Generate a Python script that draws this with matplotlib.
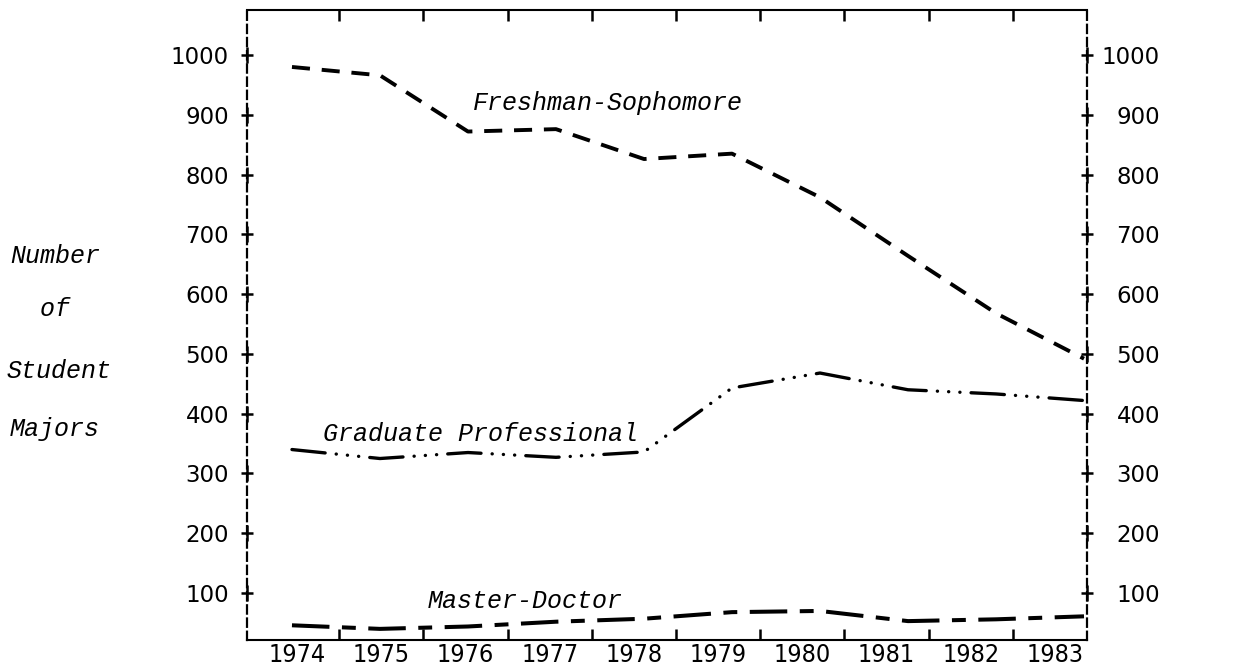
import matplotlib
matplotlib.use("Agg")
import matplotlib.pyplot as plt
from matplotlib import font_manager
from matplotlib.ticker import FixedLocator, NullFormatter

# ---------------- data ----------------
years = [1974, 1975, 1976, 1977, 1978, 1979, 1980, 1981, 1982, 1983]
freshman_sophomore = [980, 966, 872, 876, 826, 835, 762, 664, 568, 492]
graduate_professional = [340, 325, 335, 327, 336, 443, 468, 440, 433, 422]
master_doctor = [46, 40, 44, 52, 57, 68, 70, 53, 56, 61]
y_ticks = [100, 200, 300, 400, 500, 600, 700, 800, 900, 1000]
year_labels = [str(y) for y in years]
axis_title_lines = ["Number", "  of", "Student", "Majors"]

plt.rcParams["lines.scale_dashes"] = False

W, H, DPI = 1252, 667, 100
fig = plt.figure(figsize=(W / DPI, H / DPI), dpi=DPI)
fig.patch.set_facecolor("white")

def fx(px):
    return px / W

def fy(py):
    return 1 - py / H

# narrow face for the year labels if present
have_condensed = any(f.name == "DejaVu Sans" and "condensed" in str(f.stretch)
                     for f in font_manager.fontManager.ttflist)
year_font = dict(family="DejaVu Sans", stretch="condensed", size=18) if have_condensed \
    else dict(family="DejaVu Sans", size=15.5)

ax = fig.add_axes([fx(247), fy(640), fx(1087) - fx(247), fy(10) - fy(640)])
ax.set_xlim(1973.489, 1983.034)
ax.set_ylim(21.4, 1075.3)

mono_it = dict(family=["Liberation Mono", "DejaVu Sans Mono"], style="italic",
               size=18, color="black")

# ---------------- series ----------------
ax.plot(years, freshman_sophomore, color="black", lw=2.8,
        dashes=(13, 8.5), dash_capstyle="butt", solid_joinstyle="round")
ax.plot(years, graduate_professional, color="black", lw=2.4,
        dashes=(24, 8, 0.1, 8, 0.1, 8, 0.1, 8), dash_capstyle="round")
ax.plot(years, master_doctor, color="black", lw=2.9,
        dashes=(27, 9, 10, 9), dash_capstyle="butt")

# ---------------- frame ----------------
for side in ("top", "bottom"):
    ax.spines[side].set_linewidth(1.5)
for side in ("left", "right"):
    ax.spines[side].set_linewidth(1.6)
    ax.spines[side].set_linestyle((0, (6, 3.5)))

ax.yaxis.set_major_locator(FixedLocator(y_ticks))
ax.tick_params(axis="y", which="major", direction="inout", length=8, width=1.8,
               left=True, right=True, labelleft=True, labelright=False,
               labelsize=16.5, pad=9)
ax.xaxis.set_major_locator(FixedLocator([]))
ax.tick_params(axis="x", which="both", bottom=False, top=False,
               labelbottom=False, labeltop=False)

# vertical bar of the "+" tick crosses
for xa in (0, 1):
    ax.plot([xa] * len(y_ticks), y_ticks, ls="none", marker="|", ms=11,
            mew=1.8, color="black", transform=ax.get_yaxis_transform(),
            clip_on=False)

# right labels (right-aligned like typed columns)
axr = ax.twinx()
axr.set_ylim(ax.get_ylim())
axr.yaxis.set_major_locator(FixedLocator(y_ticks))
axr.tick_params(axis="y", which="major", direction="inout", length=8, width=1.8,
                labelsize=16.5, pad=48.5)
for lab in axr.get_yticklabels():
    lab.set_horizontalalignment("right")
for s in axr.spines.values():
    s.set_visible(False)

# year label axis
axl = ax.twiny()
axl.set_xlim(1973.406, 1983.380)
axl.xaxis.set_ticks_position("bottom")
axl.xaxis.set_major_locator(FixedLocator(years))
axl.set_xticklabels(year_labels, **year_font)
axl.xaxis.set_minor_locator(FixedLocator([y + 0.5 for y in years[:-1]]))
axl.xaxis.set_minor_formatter(NullFormatter())
axl.tick_params(axis="x", which="major", length=0, pad=2,
                bottom=True, top=False)
axl.tick_params(axis="x", which="minor", direction="in", length=8, width=1.8,
                bottom=True, top=True)
for s in axl.spines.values():
    s.set_visible(False)

# ---------------- annotations ----------------
fig.text(fx(473), fy(110), "Freshman-Sophomore", ha="left", va="baseline", **mono_it)
fig.text(fx(323), fy(441), "Graduate Professional", ha="left", va="baseline", **mono_it)
fig.text(fx(428), fy(608), "Master-Doctor", ha="left", va="baseline", **mono_it)

title_pos = [(10, 263), (10, 316), (7, 378), (10, 436)]
for (px, py), line in zip(title_pos, axis_title_lines):
    fig.text(fx(px), fy(py), line, ha="left", va="baseline", **mono_it)

fig.savefig("out.png", dpi=DPI, facecolor="white")
